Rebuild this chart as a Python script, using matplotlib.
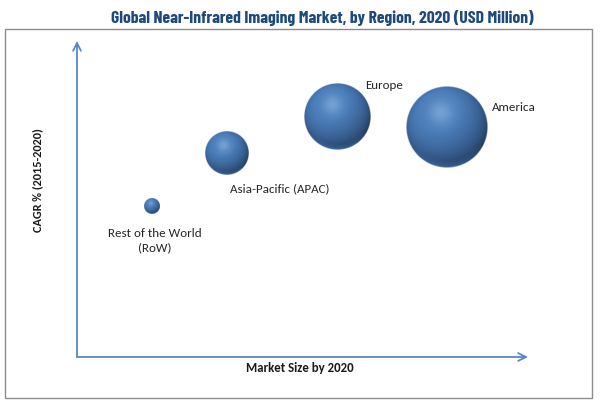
import matplotlib
matplotlib.use("Agg")
import matplotlib.pyplot as plt
from matplotlib.patches import Rectangle
from matplotlib.colors import to_rgb
import numpy as np

# ---- data (arbitrary units, no ticks) ----
regions = ["Rest of the World\n(RoW)", "Asia-Pacific (APAC)", "Europe", "America"]
market_size = [16.6, 33.2, 57.6, 82.0]      # x position
cagr = [47.6, 64.5, 76.0, 72.7]             # y position
bubble_size = [117, 975, 2265, 3480]        # bubble area (pt^2)

title = "Global Near-Infrared Imaging Market, by Region, 2020 (USD Million)"
xlabel = "Market Size by 2020"
ylabel = "CAGR % (2015-2020)"

# label offsets (points) relative to bubble centre
label_offsets = [(2, -24), (38, -25), (34, 23), (48, 15)]

W, H = 600, 406
DPI = 100
fig = plt.figure(figsize=(W / DPI, H / DPI), dpi=DPI)
fig.patch.set_facecolor("white")

# outer frame
fig.add_artist(Rectangle((5 / W, (H - 399) / H), (592 - 5) / W, (399 - 30) / H,
                         transform=fig.transFigure, fill=False,
                         edgecolor="#8c8c8c", linewidth=1.0))

ax = fig.add_axes([77 / W, (H - 358) / H, (528 - 77) / W, (358 - 42) / H])
ax.set_xlim(0, 100)
ax.set_ylim(0, 100)
ax.axis("off")

axis_color = "#5a86c5"
ax.annotate("", xy=(1.0, 0), xytext=(0, 0), xycoords="axes fraction",
            arrowprops=dict(arrowstyle="->", color=axis_color, lw=1.3,
                            mutation_scale=14, shrinkA=0, shrinkB=0))
ax.annotate("", xy=(0, 1.0), xytext=(0, 0), xycoords="axes fraction",
            arrowprops=dict(arrowstyle="->", color=axis_color, lw=1.3,
                            mutation_scale=14, shrinkA=0, shrinkB=0))

# ---- shaded spheres: image rendered per bubble, sized from bubble_size ----
dark = np.array(to_rgb("#1b3050"))
base = np.array(to_rgb("#4a7cb8"))
light = np.array(to_rgb("#9cc6ee"))
L = np.array([-0.25, 0.45, 0.85])
L = L / np.linalg.norm(L)

def sphere_rgba(n=160):
    u = np.linspace(-1, 1, n)
    U, V = np.meshgrid(u, -u)  # V up
    R2 = U ** 2 + V ** 2
    Z = np.sqrt(np.clip(1 - R2, 0, 1))
    ndl = U * L[0] + V * L[1] + Z * L[2]
    shade = np.clip(0.32 + 0.80 * ndl, 0, 1.0)
    col = dark[None, None, :] * (1 - shade[..., None]) + base[None, None, :] * shade[..., None]
    # soft highlight
    hx, hy = -0.15, 0.36
    spec = np.exp(-((U - hx) ** 2 + (V - hy) ** 2) / (2 * 0.22 ** 2))
    col = col * (1 - 0.5 * spec[..., None]) + light[None, None, :] * 0.5 * spec[..., None]
    # bottom reflection rim
    rim = np.clip((np.sqrt(R2) - 0.82) / 0.18, 0, 1) * np.clip(-V - 0.45, 0, 1) * 1.2
    rim = np.clip(rim, 0, 0.6)
    col = col * (1 - rim[..., None]) + base[None, None, :] * 1.05 * rim[..., None]
    col = np.clip(col, 0, 1)
    alpha = np.clip((1 - np.sqrt(R2)) * n / 2.0, 0, 1)
    return np.dstack([col, alpha])

img = sphere_rgba()
fig.canvas.draw()
px_per_x = ax.bbox.width / 100.0
px_per_y = ax.bbox.height / 100.0
for x, y, s in zip(market_size, cagr, bubble_size):
    r_px = np.sqrt(s) / 2.0 * DPI / 72.0
    rx = r_px / px_per_x
    ry = r_px / px_per_y
    ax.imshow(img, extent=(x - rx, x + rx, y - ry, y + ry), aspect="auto",
              interpolation="bilinear", zorder=3)
ax.set_xlim(0, 100)
ax.set_ylim(0, 100)

font = "Carlito"
for (x, y, name, off) in zip(market_size, cagr, regions, label_offsets):
    ax.annotate(name, xy=(x, y), xytext=off, textcoords="offset points",
                ha="center", va="center", fontsize=9.4, family=font,
                color="#262626", linespacing=1.35, zorder=5)

fig.text(322 / W, 1 - 18 / H, title, ha="center", va="center",
         fontsize=12.7, fontweight="bold", color="#1f497d",
         family=["Barlow Condensed", "DejaVu Sans"])
fig.text(300 / W, 1 - 368 / H, xlabel, ha="center", va="center",
         fontsize=9.3, fontweight="bold", family=font, color="#1a1a1a")
fig.text(38 / W, 1 - 180 / H, ylabel, ha="center", va="center", rotation=90,
         fontsize=8.8, fontweight="bold", family=font, color="#1a1a1a")

fig.savefig("out.png", dpi=DPI, facecolor="white")
